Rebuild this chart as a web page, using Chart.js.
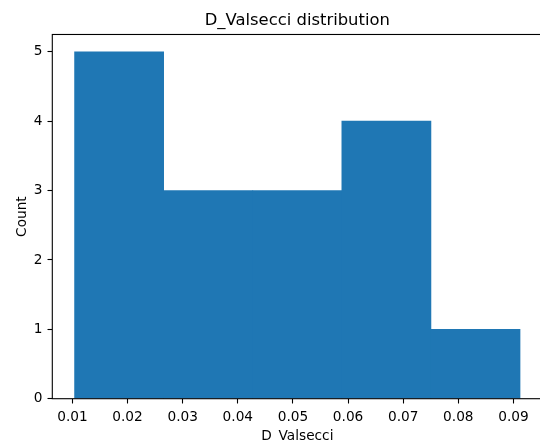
<!DOCTYPE html>
<html>
<head>
<meta charset="utf-8">
<script src="https://cdn.jsdelivr.net/npm/chart.js@4/dist/chart.umd.min.js"></script>
<style>
  html, body { margin: 0; padding: 0; background: #fff; }
  #frame { width: 540px; height: 441px; overflow: hidden; position: relative; }
  canvas { display: block; }
</style>
</head>
<body>
<div id="frame"><canvas id="hist" width="546" height="445"></canvas></div>
<script>
// Histogram of D_Valsecci: bin edges and counts per bin
const binEdges = [0.01039, 0.02655, 0.04271, 0.05887, 0.07503, 0.09119];
const binCounts = [5, 3, 3, 4, 1];
const xTickValues = [0.01, 0.02, 0.03, 0.04, 0.05, 0.06, 0.07, 0.08, 0.09];
const yTickValues = [0, 1, 2, 3, 4, 5];

const titleText = 'D_Valsecci distribution';
const xLabel = 'D_Valsecci';
const yLabel = 'Count';

// bar centres sit midway between consecutive edges
const binCenters = binCounts.map((_, i) => (binEdges[i] + binEdges[i + 1]) / 2);

// 5% margin on x, as matplotlib autoscale does; y starts at 0
const span = binEdges[binEdges.length - 1] - binEdges[0];
const xMin = binEdges[0] - 0.05 * span;
const xMax = binEdges[binEdges.length - 1] + 0.05 * span;
const yMax = Math.max(...binCounts) * 1.05;

const FONT = 'DejaVu Sans';
const INK = '#000000';

// draws the four axes spines on top of the bars
const spines = {
  id: 'spines',
  afterDatasetsDraw(chart) {
    const { ctx, chartArea: a } = chart;
    ctx.save();
    ctx.strokeStyle = INK;
    ctx.lineWidth = 1.1;
    ctx.strokeRect(a.left, a.top, a.right - a.left, a.bottom - a.top);
    ctx.restore();
  }
};

new Chart(document.getElementById('hist'), {
  type: 'bar',
  data: {
    datasets: [{
      label: yLabel,
      data: binCenters.map((x, i) => ({ x, y: binCounts[i] })),
      xAxisID: 'x',
      yAxisID: 'y',
      backgroundColor: '#1f77b4',
      borderWidth: 0,
      // each bar spans the full distance to its neighbours: one bin wide
      barThickness: 'flex',
      barPercentage: 1,
      categoryPercentage: 1
    }]
  },
  options: {
    responsive: false,
    devicePixelRatio: 1,
    animation: false,
    layout: { padding: { left: 0, top: 0, right: 3.7, bottom: 0 } },
    plugins: {
      legend: { display: false },
      tooltip: { enabled: false },
      title: {
        display: true,
        text: titleText,
        fullSize: false,
        color: INK,
        font: { family: FONT, size: 16.4, weight: 'normal', lineHeight: 1.2 },
        padding: { top: 11.2, bottom: 3.6 }
      }
    },
    scales: {
      x: {
        type: 'linear',
        position: 'bottom',
        min: xMin,
        max: xMax,
        offset: false,
        afterBuildTicks(scale) {
          scale.ticks = xTickValues.map(v => ({ value: v }));
        },
        afterFit(scale) { scale.height = 46.3; },
        border: { display: false },
        grid: {
          offset: false,
          drawOnChartArea: false,
          drawTicks: true,
          tickLength: 4.8,
          tickWidth: 1.1,
          tickColor: INK
        },
        ticks: {
          color: INK,
          padding: 5.8,
          maxRotation: 0,
          autoSkip: false,
          font: { family: FONT, size: 13.7 },
          callback: v => Number(v).toFixed(2)
        },
        title: {
          display: true,
          text: xLabel,
          color: INK,
          font: { family: FONT, size: 13.7, lineHeight: 1.2 },
          padding: { top: 0, bottom: 0.2 }
        }
      },
      y: {
        type: 'linear',
        position: 'left',
        min: 0,
        max: yMax,
        afterBuildTicks(scale) {
          scale.ticks = yTickValues.map(v => ({ value: v }));
        },
        afterFit(scale) { scale.width = 52.3; },
        border: { display: false },
        grid: {
          drawOnChartArea: false,
          drawTicks: true,
          tickLength: 4.8,
          tickWidth: 1.1,
          tickColor: INK
        },
        ticks: {
          color: INK,
          padding: 5,
          autoSkip: false,
          font: { family: FONT, size: 13.7 },
          callback: v => String(v)
        },
        title: {
          display: true,
          text: yLabel,
          color: INK,
          font: { family: FONT, size: 13.7, lineHeight: 1.2 },
          padding: { top: 13.8, bottom: 0 }
        }
      }
    }
  },
  plugins: [spines]
});
</script>
</body>
</html>
